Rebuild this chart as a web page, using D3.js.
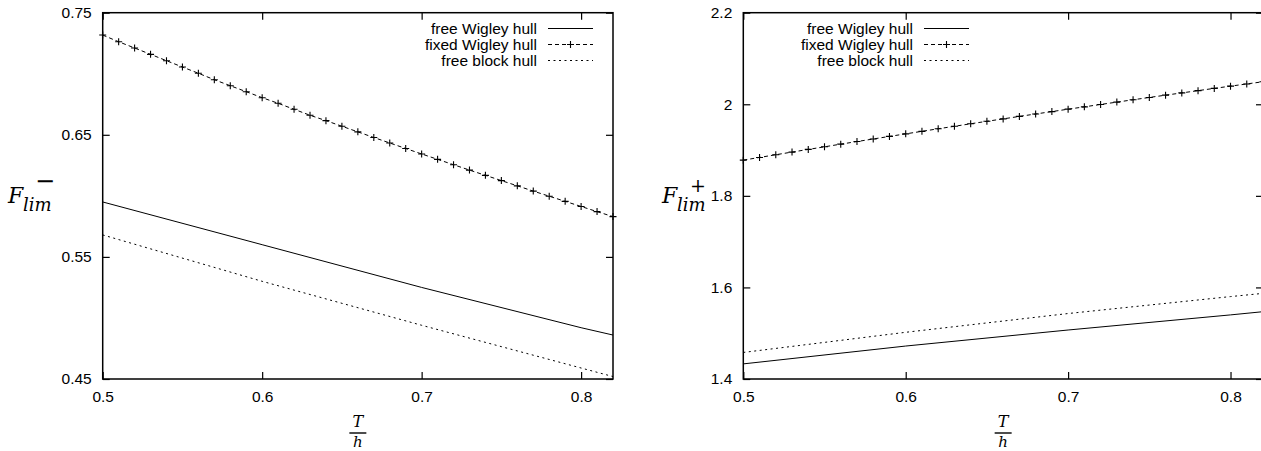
<!DOCTYPE html>
<html>
<head>
<meta charset="utf-8">
<script src="https://cdn.jsdelivr.net/npm/d3@7"></script>
<style>
  body { margin:0; background:#fff; }
  svg { display:block; }
  .tick text { font-family:"Liberation Sans", Arial, sans-serif; font-size:15.5px; fill:#000; }
  .legend text { font-family:"Liberation Sans", Arial, sans-serif; font-size:15.5px; fill:#000; }
  .math { font-family:"DejaVu Serif", "Liberation Serif", serif; font-style:italic; fill:#000; }
</style>
</head>
<body>
<svg width="1261" height="451"></svg>
<script>
// x values (T/h)
var xFine = [0.50,0.51,0.52,0.53,0.54,0.55,0.56,0.57,0.58,0.59,0.60,0.61,0.62,0.63,0.64,0.65,0.66,
             0.67,0.68,0.69,0.70,0.71,0.72,0.73,0.74,0.75,0.76,0.77,0.78,0.79,0.80,0.81,0.82]
var xCoarse = [0.50,0.60,0.70,0.80,0.82]

// left graph, F_lim^-
var minusFreeWigley = [0.595,0.560,0.525,0.492,0.486]
var minusFixedWigley = [0.7317,0.7262,0.7211,0.7159,0.7107,0.7055,0.7004,0.6951,0.6902,0.6853,0.6804,
                        0.6758,0.6709,0.6660,0.6616,0.6570,0.6524,0.6478,0.6433,0.6388,0.6343,0.6299,
                        0.6255,0.6211,0.6168,0.6125,0.6082,0.6039,0.5997,0.5955,0.5913,0.5871,0.5830]
var minusFreeBlock = [0.568,0.530,0.494,0.459,0.452]

// right graph, F_lim^+
var plusFreeWigley = [1.433,1.472,1.507,1.540,1.547]
var plusFixedWigley = [1.878,1.8839,1.8898,1.8956,1.9014,1.9071,1.9129,1.9186,1.9242,1.9298,1.9354,
                       1.9409,1.9465,1.9519,1.9574,1.9628,1.9681,1.9735,1.9788,1.9840,1.9893,1.9944,
                       1.9996,2.0047,2.0098,2.0149,2.0199,2.0248,2.0298,2.0347,2.0396,2.0444,2.0492]
var plusFreeBlock = [1.458,1.502,1.543,1.580,1.587]

var legendNames = ["free Wigley hull","fixed Wigley hull","free block hull"]
var xTicks = [0.5,0.6,0.7,0.8]
var minusTicks = [0.45,0.55,0.65,0.75]
var plusTicks = [1.4,1.6,1.8,2.0,2.2]

var styles = [
    {dash:null, marks:false},
    {dash:"4,3", marks:true},
    {dash:"2,3.5", marks:false}
]

var svg = d3.select("svg")

var makeSeries = function(xs,ys)
{
    return xs.map(function(x,i){ return {x:x, y:ys[i]} })
}

var drawPanel = function(p)
{
    var xScale = d3.scaleLinear().domain([0.5,0.82]).range([p.left,p.right])
    var yScale = d3.scaleLinear().domain(p.yDomain).range([379,12.7])

    var g = svg.append("g")

    // ticks on all four sides, pointing inward
    var axes = [
        {axis:d3.axisBottom(xScale).tickValues(xTicks).tickSizeInner(-7).tickFormat(d3.format(".1f")), y:379},
        {axis:d3.axisTop(xScale).tickValues(xTicks).tickSizeInner(-7).tickFormat(""), y:12.7}
    ]
    axes.forEach(function(a)
    {
        var ax = g.append("g")
            .attr("transform","translate(0,"+a.y+")")
            .call(a.axis.tickSizeOuter(0).tickPadding(12))
        ax.select(".domain").remove()
    })
    var yl = g.append("g")
        .attr("transform","translate("+p.left+",0)")
        .call(d3.axisLeft(yScale).tickValues(p.yTicks).tickSizeInner(-7).tickSizeOuter(0)
              .tickPadding(11).tickFormat(p.yFormat))
    yl.select(".domain").remove()
    var yr = g.append("g")
        .attr("transform","translate("+p.right+",0)")
        .call(d3.axisRight(yScale).tickValues(p.yTicks).tickSizeInner(-7).tickSizeOuter(0).tickFormat(""))
    yr.select(".domain").remove()
    g.selectAll(".tick line").attr("stroke","#000").attr("stroke-width",1.2)

    // frame
    g.append("rect")
        .attr("x",p.left).attr("y",12.7)
        .attr("width",p.right-p.left).attr("height",379-12.7)
        .attr("fill","none").attr("stroke","#000").attr("stroke-width",1.5)

    var line = d3.line()
        .x(function(d){ return xScale(d.x) })
        .y(function(d){ return yScale(d.y) })

    var plot = g.append("g")
    p.series.forEach(function(s,i)
    {
        var st = styles[i]
        plot.append("path")
            .datum(s)
            .attr("d",line)
            .attr("fill","none")
            .attr("stroke","#000")
            .attr("stroke-width",1)
            .attr("stroke-dasharray",st.dash)
        if(st.marks)
        {
            plot.selectAll(".plus")
                .data(s)
                .enter()
                .append("path")
                .classed("plus",true)
                .attr("d","M-3.5,0H3.5M0,-3.5V3.5")
                .attr("transform",function(d){ return "translate("+xScale(d.x)+","+yScale(d.y)+")" })
                .attr("stroke","#000")
                .attr("stroke-width",1.1)
        }
    })

    // legend
    var leg = g.append("g").classed("legend",true)
    legendNames.forEach(function(name,i)
    {
        var yy = 28.5+i*16
        leg.append("text")
            .attr("x",p.legendX)
            .attr("y",yy+5)
            .attr("text-anchor","end")
            .text(name)
        leg.append("line")
            .attr("x1",p.legendX+11).attr("x2",p.legendX+56)
            .attr("y1",yy).attr("y2",yy)
            .attr("stroke","#000").attr("stroke-width",1)
            .attr("stroke-dasharray",styles[i].dash)
        if(styles[i].marks)
        {
            leg.append("path")
                .attr("d","M-3.5,0H3.5M0,-3.5V3.5")
                .attr("transform","translate("+(p.legendX+33.5)+","+yy+")")
                .attr("stroke","#000").attr("stroke-width",1.1)
        }
    })

    // x label T/h
    var cx = (p.left+p.right)/2
    g.append("text").classed("math",true)
        .attr("x",cx).attr("y",427)
        .attr("text-anchor","middle")
        .style("font-size","16px")
        .text("T")
    g.append("line")
        .attr("x1",cx-8.5).attr("x2",cx+8.5)
        .attr("y1",433).attr("y2",433)
        .attr("stroke","#000").attr("stroke-width",1.4)
    g.append("text").classed("math",true)
        .attr("x",cx).attr("y",447)
        .attr("text-anchor","middle")
        .style("font-size","15px")
        .text("h")

    // y label F_lim^(+/-)
    var lab = g.append("g").attr("transform","translate("+p.labelX+",0)")
    lab.append("text").classed("math",true)
        .attr("x",0).attr("y",203)
        .style("font-size","22px")
        .text("F")
    lab.append("text").classed("math",true)
        .attr("x",15).attr("y",211)
        .style("font-size","18px")
        .text("lim")
    lab.append("text")
        .attr("x",p.signX).attr("y",p.sign=="+" ? 192 : 189)
        .attr("text-anchor","middle")
        .style("font-family","DejaVu Serif, serif")
        .style("font-size",p.sign=="+" ? "19px" : "24px")
        .text(p.sign=="+" ? "+" : "\u2212")
}

drawPanel({
    left:102.7, right:613,
    yDomain:[0.45,0.75], yTicks:minusTicks, yFormat:d3.format(".2f"),
    series:[makeSeries(xCoarse,minusFreeWigley),makeSeries(xFine,minusFixedWigley),makeSeries(xCoarse,minusFreeBlock)],
    legendX:537, labelX:8, sign:"-", signX:37
})

drawPanel({
    left:743.3, right:1263,
    yDomain:[1.4,2.2], yTicks:plusTicks, yFormat:function(d){ return d==2 ? "2" : d3.format(".1f")(d) },
    series:[makeSeries(xCoarse,plusFreeWigley),makeSeries(xFine,plusFixedWigley),makeSeries(xCoarse,plusFreeBlock)],
    legendX:913, labelX:662, sign:"+", signX:36
})
</script>
</body>
</html>
